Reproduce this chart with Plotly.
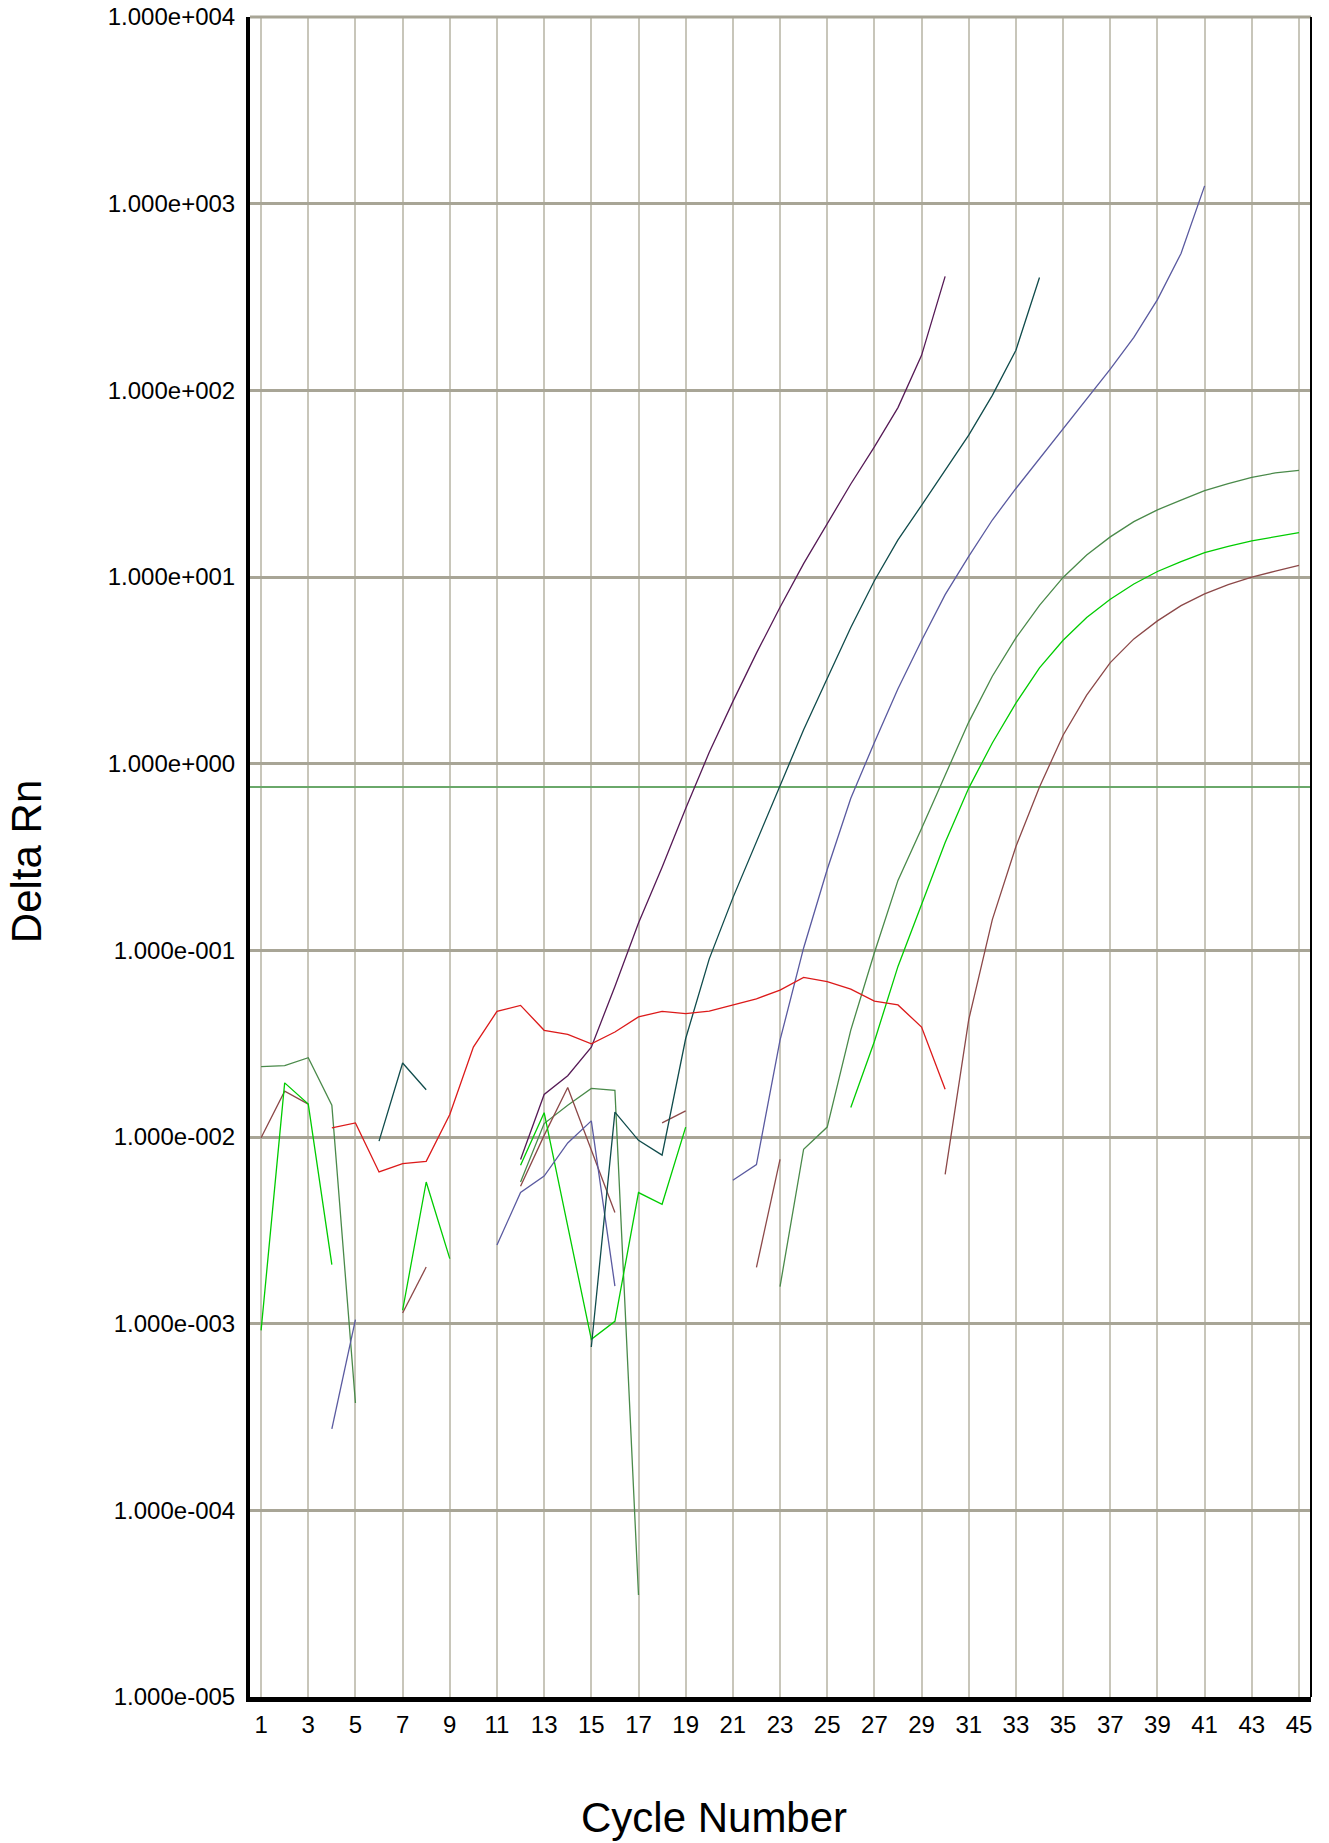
import plotly.graph_objects as go

N = None
cycles = list(range(1, 46))

red = [N, N, N, 0.0112, 0.0119, 0.0065, 0.0072, 0.0074, 0.0132, 0.0303, 0.0471, 0.0507, 0.0373,
       0.0355, 0.0316, 0.0365, 0.0440, 0.0471, 0.0458, 0.0473, 0.0510, 0.0550, 0.0612,
       0.0716, 0.0679, 0.0620, 0.0535, 0.0510, 0.0388, 0.0180] + [N] * 15

purple = [N] * 11 + [0.00757, 0.0169, 0.0213, 0.0303, 0.064, 0.140, 0.279, 0.575, 1.15, 2.15,
                     3.91, 6.88, 11.8, 19.4, 31.5, 49.8, 80.8, 154, 408] + [N] * 15

teal = [N] * 5 + [0.0095, 0.0249, 0.0179] + [N] * 6 + \
       [0.00075, 0.0136, 0.0096, 0.0080, 0.0337, 0.090, 0.191, 0.383, 0.764, 1.52,
        2.86, 5.36, 9.55, 15.8, 24.2, 37.5, 57.5, 94, 164, 402] + [N] * 11

slate = [N] * 3 + [2.73e-4, 1.05e-3] + [N] * 5 + \
        [2.64e-3, 5.04e-3, 6.18e-3, 9.29e-3, 0.0122, 1.59e-3] + [N] * 4 + \
        [5.87e-3, 7.12e-3, 0.0330, 0.103, 0.271, 0.652, 1.30, 2.52, 4.57, 8.05,
         12.9, 20.2, 29.8, 43.0, 61.6, 89, 130, 192, 306, 541, 1246] + [N] * 4

green_mid = [0.0238, 0.0241, 0.0266, 0.0148, 3.76e-4] + [N] * 6 + \
            [5.74e-3, 0.0118, 0.0148, 0.0182, 0.0178, 3.52e-5] + [N] * 5 + \
            [1.58e-3, 8.6e-3, 0.0113, 0.0374, 0.097, 0.237, 0.45, 0.865, 1.67, 2.94,
             4.72, 7.05, 9.95, 13.1, 16.4, 19.8, 22.9, 25.8, 29.0, 31.6, 34.2, 36.1, 37.3]

green_bright = [9.2e-4, 0.0195, 0.0150, 2.07e-3] + [N] * 2 + [1.18e-3, 5.74e-3, 2.23e-3] + [N] * 2 + \
               [7.05e-3, 0.0135, 3.33e-3, 8.24e-4, 1.03e-3, 5.04e-3, 4.36e-3, 0.0113] + [N] * 6 + \
               [0.0144, 0.0325, 0.082, 0.174, 0.378, 0.74, 1.29, 2.11, 3.26, 4.58,
                6.07, 7.6, 9.17, 10.7, 12.1, 13.5, 14.6, 15.6, 16.5, 17.3]

brown = [0.0099, 0.0176, 0.0150] + [N] * 3 + [1.14e-3, 2.01e-3] + [N] * 3 + \
        [5.45e-3, 0.0102, 0.0184, 8.5e-3, 3.94e-3] + [N] + [0.0119, 0.0138] + [N] * 2 + \
        [2.0e-3, 7.58e-3] + [N] * 6 + \
        [6.3e-3, 0.0425, 0.146, 0.36, 0.75, 1.42, 2.33, 3.48, 4.66, 5.82,
         7.02, 8.12, 9.1, 9.97, 10.75, 11.55]

THRESHOLD = 0.75
X_RANGE = [0.53, 45.51]
x_tickvals = list(range(1, 46, 2))
y_exponents = list(range(-5, 5))
y_tickvals = [10.0 ** e for e in y_exponents]
y_ticktext = ["1.000e%s%03d" % ("+" if e >= 0 else "-", abs(e)) for e in y_exponents]

series = [
    ("Sample A", green_mid, "#4a8a4a"),
    ("Sample B", brown, "#8c4848"),
    ("Sample C", green_bright, "#00cc00"),
    ("Sample D", slate, "#5a5aa0"),
    ("Sample E", teal, "#104c4c"),
    ("Sample F", purple, "#561a56"),
    ("NTC", red, "#dc1a1a"),
]

fig = go.Figure()
fig.add_trace(go.Scatter(x=X_RANGE, y=[THRESHOLD, THRESHOLD], mode="lines",
                         line=dict(color="#6aa86a", width=2), hoverinfo="skip", name="Threshold"))
for name, vals, col in series:
    fig.add_trace(go.Scatter(x=cycles, y=vals, mode="lines", name=name,
                             line=dict(color=col, width=1.3), connectgaps=False))

FONT = "Liberation Sans, Arial, sans-serif"
fig.update_layout(
    width=1329, height=1843,
    margin=dict(l=250, r=18, t=17, b=146, autoexpand=False),
    paper_bgcolor="white", plot_bgcolor="white",
    showlegend=False,
    font=dict(family=FONT, color="black", size=24),
    xaxis=dict(range=X_RANGE, tickvals=x_tickvals, ticktext=[str(v) for v in x_tickvals],
               showgrid=True, gridcolor="#c8c6ba", gridwidth=1.5, zeroline=False,
               showline=True, linecolor="black", linewidth=4.5, ticks="", automargin=False,
               ticklabelstandoff=2, tickfont=dict(size=24, family=FONT)),
    yaxis=dict(type="log", range=[-5, 4], tickvals=y_tickvals, ticktext=y_ticktext,
               showgrid=True, gridcolor="#a8a596", gridwidth=2.5, zeroline=False,
               showline=True, linecolor="black", linewidth=4, ticks="", automargin=False,
               ticklabelstandoff=6, tickfont=dict(size=24, family=FONT)),
    shapes=[
        dict(type="line", xref="paper", yref="paper", x0=0, x1=1, y0=1, y1=1,
             line=dict(color="#a8a596", width=3)),
        dict(type="line", xref="paper", yref="paper", x0=1, x1=1, y0=0, y1=1,
             line=dict(color="black", width=2)),
    ],
    annotations=[
        dict(text="Cycle Number", xref="paper", yref="paper", x=0.437, y=-0.072,
             xanchor="center", yanchor="middle", showarrow=False,
             font=dict(size=42, family=FONT, color="black")),
        dict(text="Delta Rn", xref="paper", yref="paper", x=-0.211, y=0.497,
             xanchor="center", yanchor="middle", textangle=-90, showarrow=False,
             font=dict(size=42, family=FONT, color="black")),
    ],
)

fig.write_html("out.html", config={"displayModeBar": False},
               post_script="document.body.style.margin='0';")
